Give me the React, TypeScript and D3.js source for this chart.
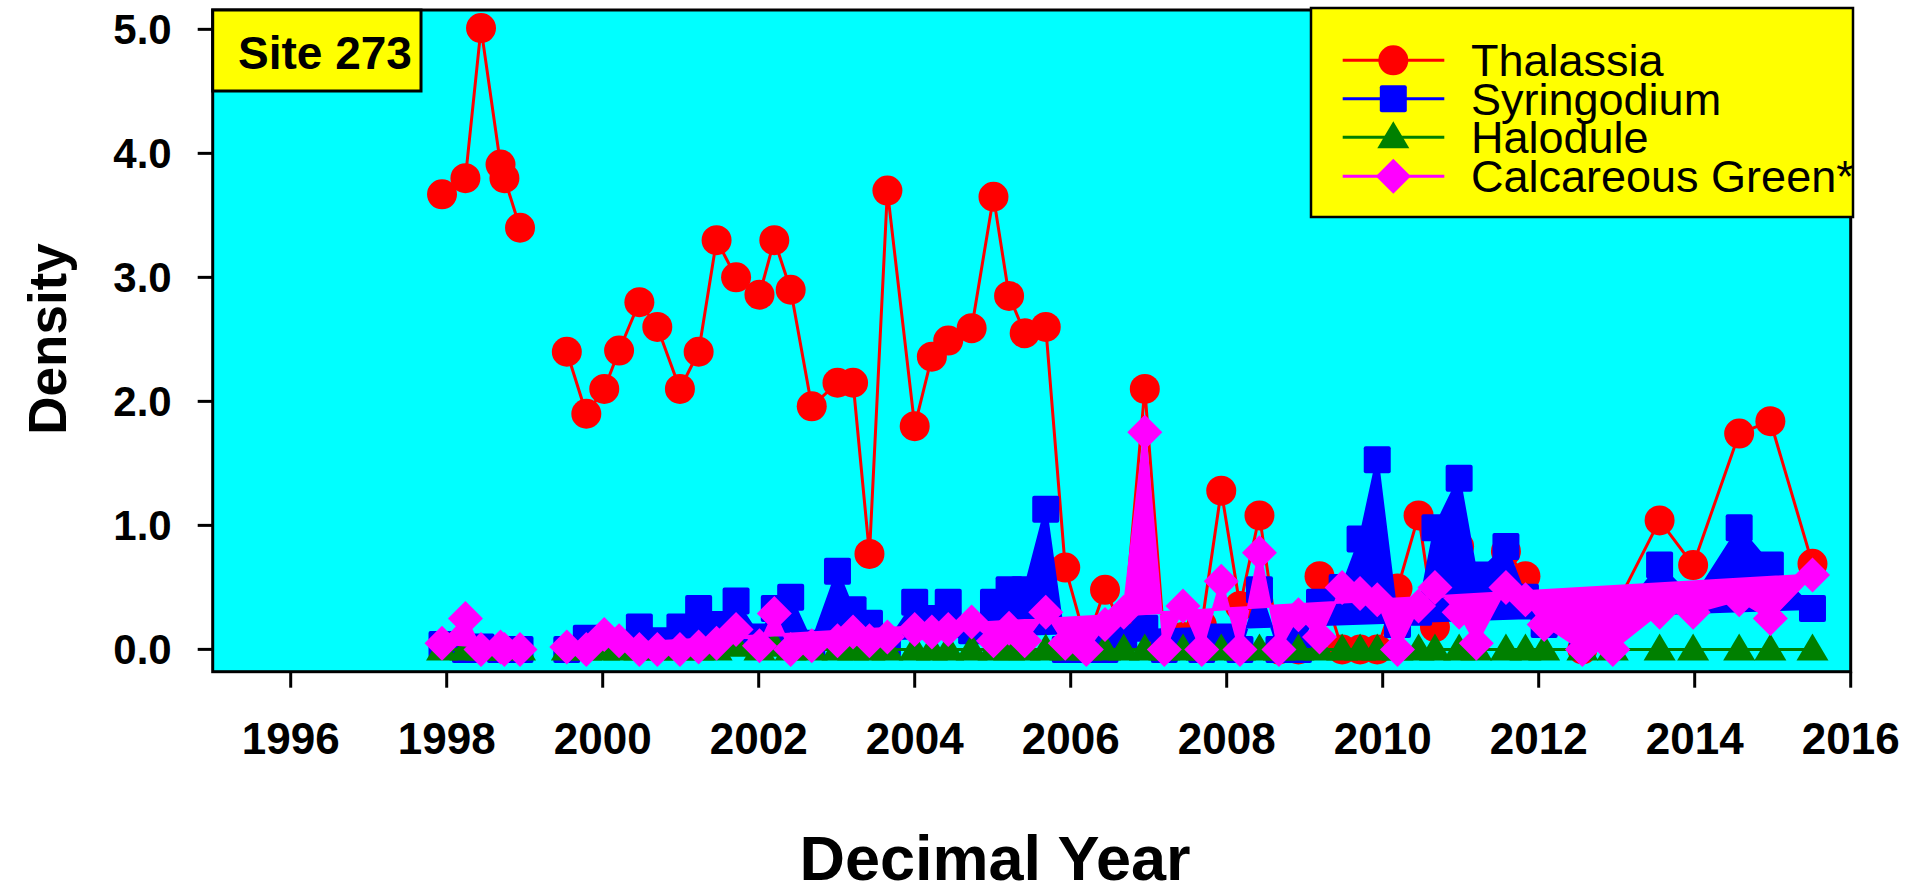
import React from "react";
import * as d3 from "d3";

// Survey dates (decimal year); the 1999 gap splits the record into two runs
const surveyYears = [
  1997.94, 1998.24, 1998.44, 1998.69, 1998.74, 1998.94,
  1999.54, 1999.79, 2000.02, 2000.21, 2000.47, 2000.70, 2000.99, 2001.23,
  2001.46, 2001.71, 2002.01, 2002.20, 2002.41, 2002.68, 2003.01, 2003.21,
  2003.42, 2003.65, 2004.00, 2004.22, 2004.43, 2004.73, 2005.01, 2005.21,
  2005.41, 2005.68, 2005.93, 2006.20, 2006.44, 2006.68, 2006.95, 2007.20,
  2007.44, 2007.68, 2007.93, 2008.17, 2008.42, 2008.67, 2008.92, 2009.19,
  2009.48, 2009.71, 2009.93, 2010.19, 2010.46, 2010.67, 2010.98, 2011.20,
  2011.58, 2011.83, 2012.07, 2012.56, 2012.95, 2013.55, 2013.98, 2014.57,
  2014.97, 2015.51,
];
const runStarts = [0, 6];

const thalassia = [
  3.67, 3.8, 5.01, 3.91, 3.8, 3.4,
  2.4, 1.9, 2.1, 2.41, 2.8, 2.6, 2.1, 2.4,
  3.3, 3.0, 2.86, 3.3, 2.9, 1.96, 2.15, 2.15,
  0.77, 3.7, 1.8, 2.36, 2.49, 2.59, 3.65, 2.85,
  2.55, 2.6, 0.66, 0.05, 0.48, 0.15, 2.1, 0.05,
  0.1, 0.2, 1.28, 0.35, 1.08, 0.0, 0.0, 0.59,
  0.0, 0.0, 0.0, 0.49, 1.08, 0.18, 0.83, 0.5,
  0.79, 0.59, 0.3, 0.0, 0.3, 1.04, 0.68, 1.74,
  1.84, 0.69,
];
const syringodium = [
  0.04, 0.0, 0.02, 0.0, 0.0, 0.0,
  0.0, 0.09, 0.05, 0.05, 0.18, 0.07, 0.18, 0.33,
  0.2, 0.39, 0.1, 0.33, 0.42, 0.05, 0.63, 0.32,
  0.21, 0.05, 0.38, 0.25, 0.38, 0.15, 0.38, 0.48,
  0.48, 1.13, 0.0, 0.0, 0.0, 0.1, 0.17, 0.0,
  0.05, 0.0, 0.1, 0.0, 0.48, 0.0, 0.0, 0.38,
  0.5, 0.89, 1.53, 0.2, 0.3, 0.98, 1.38, 0.6,
  0.83, 0.42, 0.2, 0.1, 0.2, 0.68, 0.4, 0.98,
  0.68, 0.33,
];
const halodule = [
  0, 0, 0, 0, 0, 0,
  0, 0, 0, 0, 0, 0, 0, 0,
  0, 0.03, 0, 0.03, 0, 0, 0, 0,
  0, 0, 0, 0, 0, 0, 0, 0,
  0, 0, 0, 0, 0, 0, 0, 0,
  0, 0, 0, 0, 0, 0, 0, 0,
  0, 0, 0, 0, 0, 0, 0, 0,
  0, 0, 0, 0, 0, 0, 0, 0,
  0, 0,
];
const calcareousGreen = [
  0.05, 0.25, 0.0, 0.02, 0.0, 0.0,
  0.02, 0.0, 0.12, 0.07, 0.0, 0.0, 0.0, 0.02,
  0.05, 0.16, 0.03, 0.29, 0.0, 0.03, 0.07, 0.14,
  0.07, 0.1, 0.16, 0.14, 0.16, 0.22, 0.07, 0.17,
  0.07, 0.3, 0.05, 0.0, 0.2, 0.3, 1.75, 0.0,
  0.35, 0.0, 0.55, 0.0, 0.78, 0.0, 0.28, 0.1,
  0.5, 0.45, 0.4, 0.0, 0.35, 0.5, 0.3, 0.05,
  0.5, 0.4, 0.2, 0.0, 0.0, 0.3, 0.3, 0.4,
  0.25, 0.6,
];

const yTicks = [0, 1, 2, 3, 4, 5];
const xTicks = [1996, 1998, 2000, 2002, 2004, 2006, 2008, 2010, 2012, 2014, 2016];

type Shape = "circle" | "square" | "triangle" | "diamond";
const seriesList: { name: string; values: number[]; color: string; shape: Shape; filled: boolean }[] = [
  { name: "Thalassia", values: thalassia, color: "#ff0000", shape: "circle", filled: false },
  { name: "Syringodium", values: syringodium, color: "#0000ff", shape: "square", filled: true },
  { name: "Halodule", values: halodule, color: "#008000", shape: "triangle", filled: false },
  { name: "Calcareous Green*", values: calcareousGreen, color: "#ff00ff", shape: "diamond", filled: true },
];

const W = 1907;
const H = 885;
const plot = { left: 212.7, right: 1850.7, top: 10, bottom: 671.7 };
const FONT = "'Liberation Sans', Arial, Helvetica, sans-serif";

const x = d3.scaleLinear().domain([1995, 2016]).range([plot.left, plot.right]);
const y = d3.scaleLinear().domain([-0.18, 5.156]).range([plot.bottom, plot.top]);

function markerPath(shape: Shape, cx: number, cy: number): string {
  switch (shape) {
    case "circle":
      return `M${cx - 15},${cy}a15,15 0 1,0 30,0a15,15 0 1,0 -30,0Z`;
    case "square": {
      const h = 13.5, r = 2;
      return `M${cx - h + r},${cy - h}H${cx + h - r}Q${cx + h},${cy - h} ${cx + h},${cy - h + r}V${cy + h - r}Q${cx + h},${cy + h} ${cx + h - r},${cy + h}H${cx - h + r}Q${cx - h},${cy + h} ${cx - h},${cy + h - r}V${cy - h + r}Q${cx - h},${cy - h} ${cx - h + r},${cy - h}Z`;
    }
    case "triangle":
      return `M${cx},${cy - 16}L${cx + 16},${cy + 11}L${cx - 16},${cy + 11}Z`;
    case "diamond":
      return `M${cx},${cy - 17.5}L${cx + 17.5},${cy}L${cx},${cy + 17.5}L${cx - 17.5},${cy}Z`;
  }
}

function runs(values: number[]): [number, number][][] {
  const out: [number, number][][] = [];
  runStarts.forEach((s, i) => {
    const e = i + 1 < runStarts.length ? runStarts[i + 1] : surveyYears.length;
    const pts: [number, number][] = [];
    for (let k = s; k < e; k++) pts.push([x(surveyYears[k]), y(values[k])]);
    out.push(pts);
  });
  return out;
}

const line = d3.line<[number, number]>();

export default function App() {
  const legendRows = [60.3, 98.7, 137.3, 176.3];
  return (
    <svg width={W} height={H} style={{ position: "absolute", left: 0, top: 0, background: "#fff" }}>
      <defs>
        <clipPath id="plotClip">
          <rect x={plot.left} y={plot.top} width={plot.right - plot.left} height={plot.bottom - plot.top} />
        </clipPath>
      </defs>
      <rect x={plot.left} y={plot.top} width={plot.right - plot.left} height={plot.bottom - plot.top} fill="#00ffff" />

      <g clipPath="url(#plotClip)">
        {seriesList.map((s) => (
          <g key={s.name}>
            {runs(s.values).map((pts, i) => (
              <path
                key={i}
                d={line(pts) + (s.filled ? "Z" : "")}
                fill={s.filled ? s.color : "none"}
                stroke={s.color}
                strokeWidth={3}
                strokeLinejoin="round"
              />
            ))}
            {surveyYears.map((yr, k) => (
              <path key={k} d={markerPath(s.shape, x(yr), y(s.values[k]))} fill={s.color} />
            ))}
          </g>
        ))}
      </g>

      {/* frame */}
      <rect x={plot.left} y={plot.top} width={plot.right - plot.left} height={plot.bottom - plot.top} fill="none" stroke="#000" strokeWidth={3} />

      {/* y axis */}
      {yTicks.map((t) => (
        <g key={t}>
          <line x1={plot.left - 15} x2={plot.left} y1={y(t)} y2={y(t)} stroke="#000" strokeWidth={3} />
          <text x={171.7} y={y(t)} dy="0.36em" textAnchor="end" fontFamily={FONT} fontWeight="bold" fontSize={42}>
            {d3.format(".1f")(t)}
          </text>
        </g>
      ))}

      {/* x axis */}
      {xTicks.map((t) => (
        <g key={t}>
          <line x1={x(t)} x2={x(t)} y1={plot.bottom} y2={plot.bottom + 16} stroke="#000" strokeWidth={3} />
          <text x={x(t)} y={754} textAnchor="middle" fontFamily={FONT} fontWeight="bold" fontSize={44}>
            {t}
          </text>
        </g>
      ))}

      <text x={995} y={880} textAnchor="middle" fontFamily={FONT} fontWeight="bold" fontSize={63}>
        Decimal Year
      </text>
      <text transform="translate(66,339) rotate(-90)" textAnchor="middle" fontFamily={FONT} fontWeight="bold" fontSize={53}>
        Density
      </text>

      {/* site label */}
      <rect x={plot.left} y={plot.top} width={421 - plot.left} height={91 - plot.top} fill="#ffff00" stroke="#000" strokeWidth={3} />
      <text x={238} y={69} fontFamily={FONT} fontWeight="bold" fontSize={46}>
        Site 273
      </text>

      {/* legend */}
      <rect x={1311} y={8} width={1853 - 1311} height={217 - 8} fill="#ffff00" stroke="#000" strokeWidth={2.5} />
      {seriesList.map((s, i) => (
        <g key={s.name}>
          <line x1={1342.7} x2={1444.3} y1={legendRows[i]} y2={legendRows[i]} stroke={s.color} strokeWidth={3} />
          <path d={markerPath(s.shape, 1393.3, legendRows[i])} fill={s.color} />
          <text x={1471} y={legendRows[i] + 16} fontFamily={FONT} fontSize={45}>
            {s.name}
          </text>
        </g>
      ))}
    </svg>
  );
}
